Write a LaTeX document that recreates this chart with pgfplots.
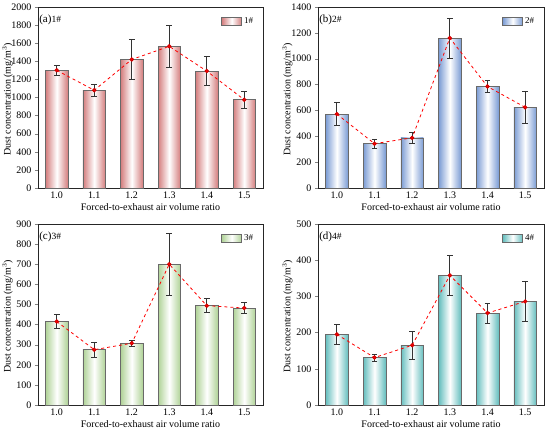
\documentclass[border=0pt]{standalone}
\usepackage{fontspec}
\setmainfont{Liberation Serif}
\usepackage{pgfplots}
\pgfplotsset{compat=1.18}
\definecolor{acol}{RGB}{212,125,125}
\definecolor{bcol}{RGB}{122,155,212}
\definecolor{ccol}{RGB}{175,210,150}
\definecolor{dcol}{RGB}{100,190,190}
\definecolor{edge}{RGB}{105,105,105}
\pgfplotsset{
  panel/.style={
    scale only axis, width=#1, height=181pt, anchor=south west,
    xmin=-0.5, xmax=5.5, ymin=0,
    xtick={0,...,5}, xticklabels={1.0,1.1,1.2,1.3,1.4,1.5},
    /pgf/number format/assume math mode=true,
    /pgf/number format/1000 sep={},
    tick label style={font=\fontsize{10}{12}\selectfont},
    label style={font=\fontsize{10}{12}\selectfont},
    xlabel={Forced-to-exhaust air volume ratio},
    ylabel={Dust concentration (mg/m$^3$)},
    xtick pos=bottom, ytick pos=left,
    xtick align=inside, ytick align=outside,
    major tick length=3pt,
    axis line style={line width=0.7pt, black!85},
    legend style={draw=none, fill=none, at={(0.97,0.96)}, anchor=north east, font=\fontsize{9}{11}\selectfont, inner sep=1pt},
    xlabel style={yshift=2pt},
    ylabel style={at={(axis description cs:-0.135,0.49)}, anchor=center},
    clip=false,
  },
  bars/.style={ybar, bar width=0.6, draw=edge, line width=0.6pt,
    left color=#1, right color=#1, middle color=white,
    error bars/.cd, y dir=both, y explicit,
    error bar style={line width=0.8pt, black!80, solid},
    error mark options={rotate=90, mark size=2.8pt, line width=0.8pt, black!80}},
  trend/.style={red, dashed, line width=0.8pt, mark=*, mark size=1.8pt, mark options={solid, fill=red, draw=red!80!black}},
  leg/.style={legend image code/.code={\draw[draw=edge, line width=0.6pt, left color=#1, right color=#1, middle color=white] (0pt,-4pt) rectangle (20pt,4pt);}},
}
\newcommand{\onebar}[4]{\addplot[bars=#1] coordinates {(#2,#3) +- (0,#4)};}
\newcommand{\plabel}[2]{\node[anchor=north west, inner sep=0pt] at (rel axis cs:0.005,0.955) {\fontsize{11}{13}\selectfont #1\fontsize{9.5}{11}\selectfont #2};}
\begin{document}
\begin{tikzpicture}[x=1pt,y=1pt]
\useasboundingbox (0,0) rectangle (550,435);
% (a)
\begin{axis}[panel=225pt, at={(38pt,247pt)}, ymax=2000, ytick={0,200,...,2000}]
\addlegendimage{leg=acol}
\addlegendentry{1\#}
\onebar{acol}{0}{1300}{55}
\onebar{acol}{1}{1080}{67}
\onebar{acol}{2}{1420}{218}
\onebar{acol}{3}{1565}{228}
\onebar{acol}{4}{1292}{162}
\onebar{acol}{5}{975}{96}
\addplot[trend] coordinates {(0,1300) (1,1080) (2,1420) (3,1565) (4,1292) (5,975)};
\plabel{(a)}{1\#}
\end{axis}
% (b)
\begin{axis}[panel=226pt, at={(318pt,247pt)}, ymax=1400, ytick={0,200,...,1400}]
\addlegendimage{leg=bcol}
\addlegendentry{2\#}
\onebar{bcol}{0}{572}{87}
\onebar{bcol}{1}{343}{36}
\onebar{bcol}{2}{388}{44}
\onebar{bcol}{3}{1160}{155}
\onebar{bcol}{4}{785}{45}
\onebar{bcol}{5}{624}{126}
\addplot[trend] coordinates {(0,572) (1,343) (2,388) (3,1160) (4,785) (5,624)};
\plabel{(b)}{2\#}
\end{axis}
% (c)
\begin{axis}[panel=225pt, at={(38pt,30pt)}, ymax=900, ytick={0,100,...,900}]
\addlegendimage{leg=ccol}
\addlegendentry{3\#}
\onebar{ccol}{0}{415}{35}
\onebar{ccol}{1}{275}{38}
\onebar{ccol}{2}{307}{14}
\onebar{ccol}{3}{700}{154}
\onebar{ccol}{4}{494}{36}
\onebar{ccol}{5}{482}{28}
\addplot[trend] coordinates {(0,415) (1,275) (2,307) (3,700) (4,494) (5,482)};
\plabel{(c)}{3\#}
\end{axis}
% (d)
\begin{axis}[panel=226pt, at={(318pt,30pt)}, ymax=500, ytick={0,100,...,500}]
\addlegendimage{leg=dcol}
\addlegendentry{4\#}
\onebar{dcol}{0}{195}{29}
\onebar{dcol}{1}{131}{10}
\onebar{dcol}{2}{165}{39}
\onebar{dcol}{3}{358}{56}
\onebar{dcol}{4}{254}{28}
\onebar{dcol}{5}{286}{55}
\addplot[trend] coordinates {(0,195) (1,131) (2,165) (3,358) (4,254) (5,286)};
\plabel{(d)}{4\#}
\end{axis}
\end{tikzpicture}
\end{document}
